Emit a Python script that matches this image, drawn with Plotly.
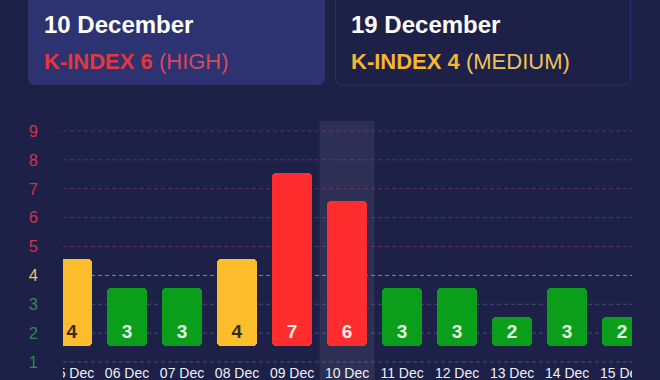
import plotly.graph_objects as go

# ---- data ----
dates = ["05 Dec", "06 Dec", "07 Dec", "08 Dec", "09 Dec", "10 Dec",
         "11 Dec", "12 Dec", "13 Dec", "14 Dec", "15 Dec"]
kp_values = [4, 3, 3, 4, 7, 6, 3, 3, 2, 3, 2]
y_ticks = [1, 2, 3, 4, 5, 6, 7, 8, 9]
selected_date = "10 Dec"
card_titles = ["10 December", "19 December"]
card_kindex = ["K-INDEX 6", "K-INDEX 4"]
card_levels = ["(HIGH)", "(MEDIUM)"]

# ---- style ----
BG = "#1d2047"
CARD_BG = "#2d3271"
CARD_BORDER = "#2d3264"
FONT = "Liberation Sans, Arial, sans-serif"

ML, MR, MT, MB = 63, 28, 121, 17
W, H = 660, 380
PW = W - ML - MR
PH = H - MT - MB
PB = H - MB


def level(v):
    if v >= 5:
        return "high"
    if v == 4:
        return "mid"
    return "low"


BAR_COL = {"high": "#ff2d2d", "mid": "#fbbd2c", "low": "#0a9e1b"}
TXT_COL = {"high": "#ffecec", "mid": "#3a2a0e", "low": "#e6ffe0"}
TICK_COL = {"high": "#cc3550", "mid": "#eec06e", "low": "#2f8a4c"}
GRID_COL = {"high": "rgba(190,70,130,0.45)", "mid": "rgba(225,215,230,0.55)",
            "low": "rgba(150,150,205,0.4)"}


def fx(p):
    return (p - ML) / PW


def fy(p):
    return (PB - p) / PH


def rounded_path(x0, y0, x1, y1, r):
    pts = [
        ("M", [(x0 + r, y0)]), ("L", [(x1 - r, y0)]), ("Q", [(x1, y0), (x1, y0 + r)]),
        ("L", [(x1, y1 - r)]), ("Q", [(x1, y1), (x1 - r, y1)]),
        ("L", [(x0 + r, y1)]), ("Q", [(x0, y1), (x0, y1 - r)]),
        ("L", [(x0, y0 + r)]), ("Q", [(x0, y0), (x0 + r, y0)]),
    ]
    s = ""
    for cmd, ps in pts:
        s += cmd + " " + " ".join(f"{fx(a):.5f},{fy(b):.5f}" for a, b in ps) + " "
    return s + "Z"


xs = list(range(len(dates)))
BASE = 1.56

fig = go.Figure()
fig.add_trace(go.Bar(
    x=xs,
    y=[v - 1 for v in kp_values],
    base=BASE,
    width=0.727,
    marker=dict(color=[BAR_COL[level(v)] for v in kp_values], cornerradius=4,
                line=dict(width=0)),
    text=[str(v) for v in kp_values],
    textposition="inside",
    insidetextanchor="start",
    textangle=0,
    constraintext="none",
    textfont=dict(family=FONT, size=19, weight="bold",
                  color=[TXT_COL[level(v)] for v in kp_values]),
    hoverinfo="skip",
))

shapes = []
# cards
shapes.append(dict(type="path", xref="paper", yref="paper", layer="below",
                   path=rounded_path(28, -12, 325, 85, 8),
                   fillcolor=CARD_BG, line=dict(width=0)))
shapes.append(dict(type="path", xref="paper", yref="paper", layer="below",
                   path=rounded_path(335.5, -12, 630.5, 85, 8),
                   fillcolor="rgba(0,0,0,0)", line=dict(width=1, color=CARD_BORDER)))
# highlight band for selected date
si = dates.index(selected_date)
shapes.append(dict(type="rect", xref="x", yref="paper", layer="below",
                   x0=si - 0.5, x1=si + 0.5, y0=fy(H + 5), y1=1,
                   fillcolor="rgba(255,255,255,0.075)", line=dict(width=0)))
# dashed grid lines
for t in y_ticks:
    shapes.append(dict(type="line", xref="paper", yref="y", layer="below",
                       x0=0, x1=1, y0=t, y1=t,
                       line=dict(color=GRID_COL[level(t)], width=1, dash="4px,3px")))
# clip tick labels at plot edges
shapes.append(dict(type="rect", xref="paper", yref="paper", layer="above",
                   x0=fx(42), x1=0, y0=fy(H + 5), y1=fy(PB + 0.5),
                   fillcolor=BG, line=dict(width=0)))
shapes.append(dict(type="rect", xref="paper", yref="paper", layer="above",
                   x0=1, x1=fx(W + 5), y0=fy(H + 5), y1=fy(PB + 0.5),
                   fillcolor=BG, line=dict(width=0)))

annotations = []
card_x = [42, 349]
card_main = ["#e3363f", "#f5b631"]
card_sub = ["#d8475c", "#efc25d"]
for i in range(2):
    annotations.append(dict(xref="paper", yref="paper", x=fx(card_x[i]), y=fy(24.5),
                            xanchor="left", yanchor="middle", showarrow=False,
                            text=f"<b>{card_titles[i]}</b>",
                            font=dict(family=FONT, size=24, color="#ffffff")))
    annotations.append(dict(xref="paper", yref="paper", x=fx(card_x[i]), y=fy(61.5),
                            xanchor="left", yanchor="middle", showarrow=False,
                            text=f"<b>{card_kindex[i]}</b> <span style='color:{card_sub[i]}'>{card_levels[i]}</span>",
                            font=dict(family=FONT, size=22, color=card_main[i])))

fig.update_layout(
    width=W, height=H,
    margin=dict(l=ML, r=MR, t=MT, b=MB, pad=0, autoexpand=False),
    paper_bgcolor=BG,
    plot_bgcolor="rgba(0,0,0,0)",
    showlegend=False,
    shapes=shapes,
    annotations=annotations,
    bargap=0,
    xaxis=dict(range=[-0.164, 10.18], showgrid=False, zeroline=False, showline=False,
               tickvals=xs, ticktext=dates, ticks="", automargin=False,
               tickfont=dict(family=FONT, size=14, color="#eef0f6"),
               fixedrange=True),
    yaxis=dict(range=[0.965, 9.346], showgrid=False, zeroline=False, showline=False,
               tickvals=y_ticks, automargin=False,
               ticktext=[f"<span style='color:{TICK_COL[level(t)]}'>{t}</span>" for t in y_ticks],
               ticks="", ticklabelstandoff=24,
               tickfont=dict(family=FONT, size=16.5, color="#cc3550"),
               fixedrange=True),
)

fig.write_html("out.html", config={"displayModeBar": False})
